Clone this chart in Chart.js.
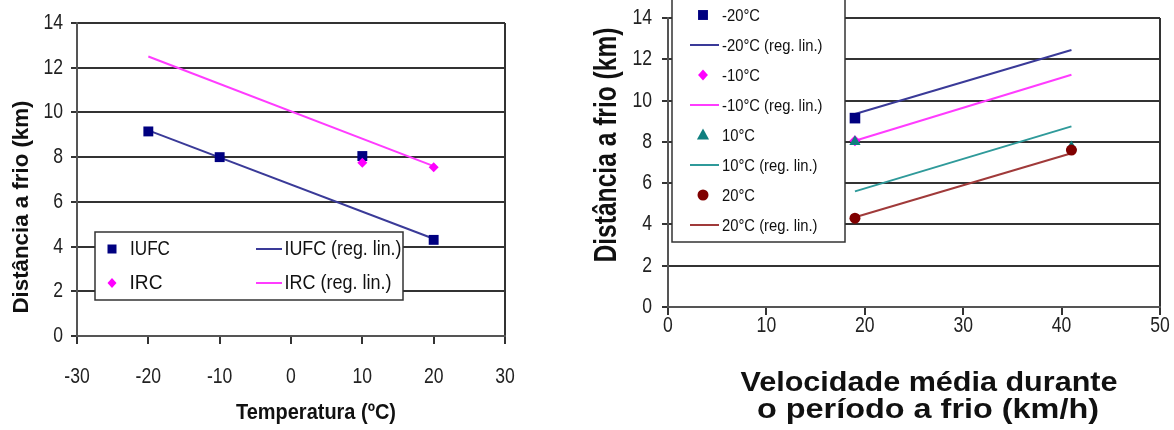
<!DOCTYPE html>
<html>
<head>
<meta charset="utf-8">
<script src="https://cdn.jsdelivr.net/npm/chart.js@4.4.1/dist/chart.umd.min.js"></script>
<style>
  html, body { margin: 0; padding: 0; background: #fff; }
  #wrap { position: relative; width: 1174px; height: 430px; overflow: hidden; }
  #c1 { position: absolute; left: 0; top: 0; }
  #c2 { position: absolute; left: 580px; top: 0; }
</style>
</head>
<body>
<div id="wrap">
  <canvas id="c1" width="560" height="430"></canvas>
  <canvas id="c2" width="594" height="430"></canvas>
</div>
<script>
// ---- left chart: distance vs temperature
const tempX = [-20, -10, 10, 20];
const iufcY = [9.15, 8.0, 8.05, 4.3];
const ircX = [10, 20];
const ircY = [7.75, 7.55];
const regTempX = [-20, 20];
const iufcRegY = [9.2, 4.35];
const ircRegY = [12.5, 7.6];

// ---- right chart: distance vs mean speed
const velX = [19, 41];
const m20X = [19];
const m20Y = [9.15];
const m10X = [19];
const m10Y = [8.05];
const p10Y = [8.0, 7.75];
const p20Y = [4.3, 7.6];
const m20RegY = [9.35, 12.45];
const m10RegY = [8.05, 11.25];
const p10RegY = [5.6, 8.75];
const p20RegY = [4.35, 7.45];

const leftLabels = ['IUFC', 'IRC', 'IUFC (reg. lin.)', 'IRC (reg. lin.)'];
const rightLabels = ['-20°C', '-20°C (reg. lin.)', '-10°C', '-10°C (reg. lin.)',
                     '10°C', '10°C (reg. lin.)', '20°C', '20°C (reg. lin.)'];

const NAVY = '#000080', MAGENTA = '#ff00ff', TEAL = '#0f7f7f', DARKRED = '#800000';
const NAVY_REG = '#3a3a98', MAG_REG = '#ff3cff', TEAL_REG = '#2f9a9a', RED_REG = '#a03a3a';
const GRID = '#333', AXIS = '#555';
const SANS = "'Liberation Sans', Arial, sans-serif";

const zip = (xs, ys) => xs.map((x, i) => ({ x: x, y: ys[i] }));

// draw text scaled horizontally to a given width
function fitText(ctx, text, cx, cy, font, width, rot) {
  ctx.save();
  ctx.font = font;
  ctx.fillStyle = '#111';
  ctx.textAlign = 'center';
  ctx.textBaseline = 'middle';
  ctx.translate(cx, cy);
  if (rot) ctx.rotate(-Math.PI / 2);
  const w = ctx.measureText(text).width;
  ctx.scale(width / w, 1);
  ctx.fillText(text, 0, 0);
  ctx.restore();
}

// text squeezed by a fixed factor
function narrowText(ctx, text, x, y, font, align, sx, color) {
  ctx.save();
  ctx.font = font;
  ctx.fillStyle = color || '#111';
  ctx.textAlign = align;
  ctx.textBaseline = 'middle';
  ctx.translate(x, y);
  ctx.scale(sx, 1);
  ctx.fillText(text, 0, 0);
  ctx.restore();
}

// tick labels, placed from the chart's own scales
function tickLabels(chart, yRight, xMid) {
  const ctx = chart.ctx, xs = chart.scales.x, ys = chart.scales.y;
  ys.ticks.forEach(t => narrowText(ctx, String(t.value), yRight, ys.getPixelForValue(t.value),
                                   '22px ' + SANS, 'right', 0.8, '#222'));
  xs.ticks.forEach(t => narrowText(ctx, String(t.value), xs.getPixelForValue(t.value), xMid,
                                   '22px ' + SANS, 'center', 0.8, '#222'));
}

function marker(ctx, style, x, y, color, k) {
  k = k || 1;
  ctx.save();
  ctx.fillStyle = color;
  ctx.beginPath();
  if (style === 'rect') ctx.rect(x - 4.5 * k, y - 4.5 * k, 9 * k, 9 * k);
  else if (style === 'rectRot') { ctx.moveTo(x, y - 5 * k); ctx.lineTo(x + 4.5 * k, y); ctx.lineTo(x, y + 5 * k); ctx.lineTo(x - 4.5 * k, y); }
  else if (style === 'triangle') { ctx.moveTo(x, y - 6 * k); ctx.lineTo(x + 5.5 * k, y + 4 * k); ctx.lineTo(x - 5.5 * k, y + 4 * k); }
  else ctx.arc(x, y, 5 * k, 0, Math.PI * 2);
  ctx.closePath();
  ctx.fill();
  ctx.restore();
}

function legendLine(ctx, x1, x2, y, color) {
  ctx.save();
  ctx.strokeStyle = color;
  ctx.lineWidth = 2;
  ctx.beginPath(); ctx.moveTo(x1, y); ctx.lineTo(x2, y); ctx.stroke();
  ctx.restore();
}

function legendBox(ctx, x, y, w, h) {
  ctx.save();
  ctx.fillStyle = '#fff';
  ctx.fillRect(x, y, w, h);
  ctx.strokeStyle = '#333';
  ctx.lineWidth = 1.5;
  ctx.strokeRect(x, y, w, h);
  ctx.restore();
}

function pts(data, color, style, radius, order) {
  return { data: data, backgroundColor: color, borderColor: color, pointStyle: style,
           pointRadius: radius, pointBorderWidth: 0, showLine: false, order: order };
}
function reg(data, color) {
  return { data: data, borderColor: color, backgroundColor: color, borderWidth: 2,
           pointRadius: 0, showLine: true, order: 10 };
}

function axes(xmin, xmax, xh, yw) {
  const n = (xmax - xmin) / 10;
  return {
    x: {
      type: 'linear', min: xmin, max: xmax,
      ticks: { stepSize: 10, display: false },
      grid: { color: c => c.index === n ? GRID : 'rgba(0,0,0,0)', tickColor: GRID, lineWidth: 2, tickLength: 8 },
      border: { color: AXIS, width: 2 },
      afterFit: s => { s.height = xh; }
    },
    y: {
      min: 0, max: 14,
      ticks: { stepSize: 2, display: false },
      grid: { color: GRID, lineWidth: 2, tickLength: 6 },
      border: { color: AXIS, width: 2 },
      afterFit: s => { s.width = yw; }
    }
  };
}

// left chart
new Chart(document.getElementById('c1'), {
  type: 'scatter',
  data: {
    datasets: [
      pts(zip(tempX, iufcY), NAVY, 'rect', 7, 2),
      pts(zip(ircX, ircY), MAGENTA, 'rectRot', 5, 1),
      reg(zip(regTempX, iufcRegY), NAVY_REG),
      reg(zip(regTempX, ircRegY), MAG_REG)
    ]
  },
  options: {
    responsive: false, animation: false,
    layout: { padding: { top: 23, right: 55, left: 0, bottom: 0 } },
    scales: axes(-30, 30, 94, 77),
    plugins: { legend: { display: false }, tooltip: { enabled: false } }
  },
  plugins: [{
    id: 'leftDecor',
    afterDraw(chart) {
      const ctx = chart.ctx;
      tickLabels(chart, 63, 377);
      legendBox(ctx, 95, 232, 308, 68);
      marker(ctx, 'rect', 112, 249, NAVY);
      marker(ctx, 'rectRot', 112, 283, MAGENTA);
      legendLine(ctx, 256, 282, 249, NAVY_REG);
      legendLine(ctx, 256, 282, 283, MAG_REG);
      fitText(ctx, leftLabels[0], 150, 249, '20px ' + SANS, 40);
      fitText(ctx, leftLabels[1], 146, 283, '20px ' + SANS, 33);
      fitText(ctx, leftLabels[2], 343, 249, '20px ' + SANS, 117);
      fitText(ctx, leftLabels[3], 338, 283, '20px ' + SANS, 107);
      fitText(ctx, 'Distância a frio (km)', 22, 207, 'bold 22px ' + SANS, 213, true);
      fitText(ctx, 'Temperatura (ºC)', 316, 413, 'bold 22px ' + SANS, 160);
    }
  }]
});

// right chart
new Chart(document.getElementById('c2'), {
  type: 'scatter',
  data: {
    datasets: [
      pts(zip(m20X, m20Y), NAVY, 'rect', 7.5, 4),
      reg(zip(velX, m20RegY), NAVY_REG),
      pts(zip(m10X, m10Y), MAGENTA, 'rectRot', 5.5, 3),
      reg(zip(velX, m10RegY), MAG_REG),
      pts(zip(velX, p10Y), TEAL, 'triangle', 6.5, 2),
      reg(zip(velX, p10RegY), TEAL_REG),
      pts(zip(velX, p20Y), DARKRED, 'circle', 5.5, 1),
      reg(zip(velX, p20RegY), RED_REG)
    ]
  },
  options: {
    responsive: false, animation: false,
    layout: { padding: { top: 18, right: 14, left: 0, bottom: 0 } },
    scales: axes(0, 50, 123, 88),
    plugins: { legend: { display: false }, tooltip: { enabled: false } }
  },
  plugins: [{
    id: 'rightDecor',
    afterDraw(chart) {
      const ctx = chart.ctx;
      tickLabels(chart, 72, 326);
      legendBox(ctx, 92, -2, 173, 244);
      const styles = [['rect', NAVY], null, ['rectRot', MAGENTA], null, ['triangle', TEAL], null, ['circle', DARKRED], null];
      const lines = [null, NAVY_REG, null, MAG_REG, null, TEAL_REG, null, RED_REG];
      rightLabels.forEach((lab, i) => {
        const y = 15 + i * 30;
        if (styles[i]) marker(ctx, styles[i][0], 123, y, styles[i][1], 1.1);
        else legendLine(ctx, 110, 139, y, lines[i]);
        narrowText(ctx, lab, 142, y + 1, '17px ' + SANS, 'left', 0.87);
      });
      fitText(ctx, 'Distância a frio (km)', 27, 145, 'bold 31px ' + SANS, 235, true);
      fitText(ctx, 'Velocidade média durante', 349, 384, 'bold 27px ' + SANS, 377);
      fitText(ctx, 'o período a frio (km/h)', 348, 411, 'bold 27px ' + SANS, 342);
    }
  }]
});
</script>
</body>
</html>
